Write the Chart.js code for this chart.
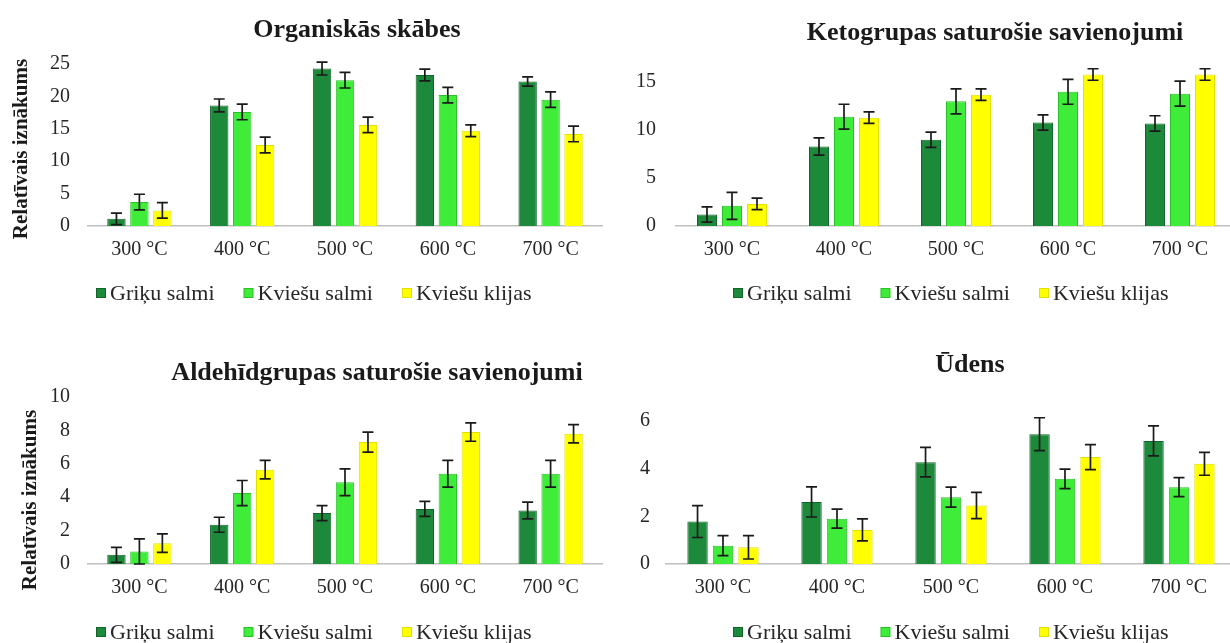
<!DOCTYPE html>
<html>
<head>
<meta charset="utf-8">
<script src="https://cdn.jsdelivr.net/npm/chart.js@4.4.0/dist/chart.umd.min.js"></script>
<style>
html, body { margin: 0; padding: 0; background: #fff; overflow: hidden; width: 1230px; height: 643px; }
canvas { position: absolute; }
</style>
</head>
<body>
<canvas id="c1" width="615" height="320" style="left:0;top:0"></canvas>
<canvas id="c2" width="625" height="320" style="left:615px;top:0"></canvas>
<canvas id="c3" width="615" height="323" style="left:0;top:320px"></canvas>
<canvas id="c4" width="625" height="323" style="left:615px;top:320px"></canvas>
<script>
// data
const categories = ['300 °C', '400 °C', '500 °C', '600 °C', '700 °C'];
const seriesNames = ['Griķu salmi', 'Kviešu salmi', 'Kviešu klijas'];

const organicGriku = [1.1, 18.6, 24.3, 23.3, 22.3];
const organicSalmi = [3.7, 17.6, 22.5, 20.2, 19.5];
const organicKlijas = [2.4, 12.5, 15.6, 14.7, 14.2];
const organicGrikuErr = [0.9, 1.0, 1.0, 0.9, 0.7];
const organicSalmiErr = [1.2, 1.2, 1.2, 1.2, 1.2];
const organicKlijasErr = [1.2, 1.2, 1.2, 0.9, 1.2];

const ketoGriku = [1.2, 8.3, 9.0, 10.8, 10.7];
const ketoSalmi = [2.1, 11.4, 13.0, 14.0, 13.8];
const ketoKlijas = [2.3, 11.3, 13.7, 15.8, 15.8];
const ketoGrikuErr = [0.8, 0.9, 0.8, 0.8, 0.8];
const ketoSalmiErr = [1.4, 1.3, 1.3, 1.3, 1.3];
const ketoKlijasErr = [0.6, 0.6, 0.6, 0.6, 0.6];

const aldGriku = [0.55, 2.35, 3.05, 3.3, 3.2];
const aldSalmi = [0.75, 4.25, 4.9, 5.4, 5.4];
const aldKlijas = [1.25, 5.65, 7.3, 7.9, 7.8];
const aldGrikuErr = [0.45, 0.45, 0.45, 0.45, 0.5];
const aldSalmiErr = [0.75, 0.75, 0.8, 0.8, 0.8];
const aldKlijasErr = [0.55, 0.55, 0.6, 0.55, 0.55];

const udensGriku = [1.78, 2.6, 4.27, 5.44, 5.16];
const udensSalmi = [0.77, 1.9, 2.8, 3.57, 3.22];
const udensKlijas = [0.7, 1.43, 2.45, 4.48, 4.2];
const udensGrikuErr = [0.67, 0.63, 0.62, 0.69, 0.63];
const udensSalmiErr = [0.42, 0.4, 0.42, 0.41, 0.4];
const udensKlijasErr = [0.49, 0.46, 0.55, 0.52, 0.48];

const fills = ['#1d8a3b', '#40ec3a', '#ffff00'];
const borders = ['#11652a', '#2cbf2a', '#e0e000'];
const serif = "'Liberation Serif', 'Times New Roman', serif";
Chart.defaults.font.family = serif;
Chart.defaults.color = '#262626';

// black error bars on top of every bar
const errorBars = {
    id: 'errorBars',
    afterDatasetsDraw(chart) {
        const ctx = chart.ctx, y = chart.scales.y;
        ctx.save();
        ctx.strokeStyle = '#1a1a1a';
        ctx.lineWidth = 1.7;
        chart.data.datasets.forEach((ds, i) => {
            chart.getDatasetMeta(i).data.forEach((bar, j) => {
                const top = y.getPixelForValue(ds.data[j] + ds.errors[j]);
                const bot = y.getPixelForValue(ds.data[j] - ds.errors[j]);
                ctx.beginPath();
                ctx.moveTo(bar.x, top); ctx.lineTo(bar.x, bot);
                ctx.moveTo(bar.x - 5.5, top); ctx.lineTo(bar.x + 5.5, top);
                ctx.moveTo(bar.x - 5.5, bot); ctx.lineTo(bar.x + 5.5, bot);
                ctx.stroke();
            });
        });
        ctx.restore();
    }
};

// excel-like title, y title and legend placed where the picture has them
const decor = {
    id: 'decor',
    afterDraw(chart, args, o) {
        const ctx = chart.ctx;
        ctx.save();
        ctx.fillStyle = '#1a1a1a';
        ctx.textBaseline = 'middle';
        ctx.textAlign = 'center';
        ctx.font = 'bold 26px ' + serif;
        ctx.fillText(o.title, o.titleX, o.titleY);
        if (o.yTitle) {
            ctx.save();
            ctx.translate(o.yTitleX, o.yTitleY);
            ctx.rotate(-Math.PI / 2);
            ctx.font = 'bold 21px ' + serif;
            ctx.fillText(o.yTitle, 0, 0);
            ctx.restore();
        }
        ctx.font = '22px ' + serif;
        ctx.textAlign = 'left';
        let x = o.legendX;
        chart.data.datasets.forEach((ds) => {
            ctx.fillStyle = ds.borderColor;
            ctx.fillRect(x, o.legendY - 5, 10, 10);
            ctx.fillStyle = ds.backgroundColor;
            ctx.fillRect(x + 1, o.legendY - 4, 8, 8);
            ctx.fillStyle = '#262626';
            ctx.fillText(ds.label, x + 14, o.legendY + 1);
            x += 14 + ctx.measureText(ds.label).width + 29;
        });
        ctx.restore();
    }
};

function makeChart(id, series, errs, p) {
    const canvas = document.getElementById(id);
    return new Chart(canvas, {
        type: 'bar',
        data: {
            labels: categories,
            datasets: series.map((s, i) => ({
                label: seriesNames[i],
                data: s,
                errors: errs[i],
                backgroundColor: fills[i],
                borderColor: borders[i],
                borderWidth: 1,
                categoryPercentage: 0.67,
                barPercentage: 0.8
            }))
        },
        options: {
            responsive: false,
            animation: false,
            layout: { padding: { left: 0, top: p.top, right: canvas.width - p.right, bottom: 0 } },
            scales: {
                x: {
                    grid: { display: false, drawTicks: false },
                    border: { display: true, color: '#bfbfbf', width: 1.5 },
                    ticks: { padding: 12, font: { size: 20 }, maxRotation: 0, autoSkip: false },
                    afterFit: (s) => { s.height = canvas.height - p.bottom; }
                },
                y: {
                    min: 0,
                    max: p.max,
                    grid: { display: false, drawTicks: false },
                    border: { display: false },
                    ticks: { stepSize: p.step, includeBounds: false, padding: p.tickPad, font: { size: 20 } },
                    afterFit: (s) => { s.width = p.left; }
                }
            },
            plugins: {
                legend: { display: false },
                title: { display: false },
                tooltip: { enabled: false },
                decor: p.decor
            }
        },
        plugins: [errorBars, decor]
    });
}

makeChart('c1', [organicGriku, organicSalmi, organicKlijas], [organicGrikuErr, organicSalmiErr, organicKlijasErr],
    { left: 88, right: 602, top: 64, bottom: 226, max: 25, step: 5, tickPad: 18,
      decor: { title: 'Organiskās skābes', titleX: 357, titleY: 30, yTitle: 'Relatīvais iznākums', yTitleX: 22, yTitleY: 149, legendX: 96, legendY: 293 } });

makeChart('c2', [ketoGriku, ketoSalmi, ketoKlijas], [ketoGrikuErr, ketoSalmiErr, ketoKlijasErr],
    { left: 61, right: 621, top: 63, bottom: 226, max: 17, step: 5, tickPad: 20,
      decor: { title: 'Ketogrupas saturošie savienojumi', titleX: 380, titleY: 33, legendX: 118, legendY: 293 } });

makeChart('c3', [aldGriku, aldSalmi, aldKlijas], [aldGrikuErr, aldSalmiErr, aldKlijasErr],
    { left: 88, right: 602, top: 77, bottom: 244, max: 10, step: 2, tickPad: 18,
      decor: { title: 'Aldehīdgrupas saturošie savienojumi', titleX: 377, titleY: 53, yTitle: 'Relatīvais iznākums', yTitleX: 31, yTitleY: 180, legendX: 96, legendY: 312 } });

makeChart('c4', [udensGriku, udensSalmi, udensKlijas], [udensGrikuErr, udensSalmiErr, udensKlijasErr],
    { left: 51, right: 621, top: 77, bottom: 244, max: 7, step: 2, tickPad: 16,
      decor: { title: 'Ūdens', titleX: 355, titleY: 45, legendX: 118, legendY: 312 } });
</script>
</body>
</html>
